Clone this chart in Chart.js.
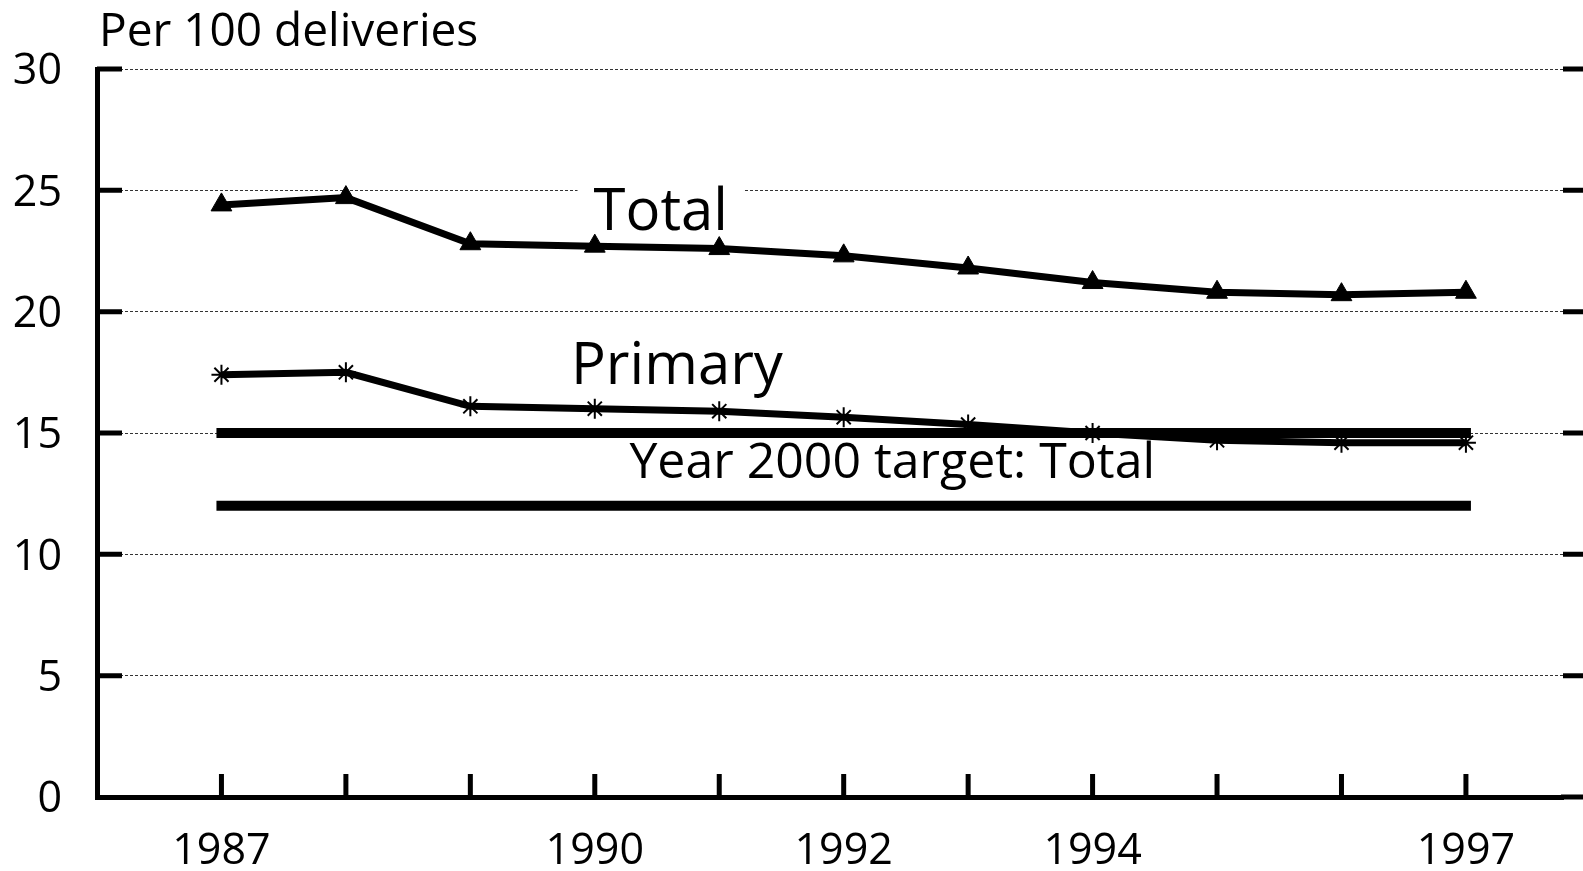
<!DOCTYPE html>
<html><head><meta charset="utf-8">
<script src="https://cdn.jsdelivr.net/npm/chart.js@4"></script>
<style>html,body{margin:0;padding:0;background:#fff;overflow:hidden}#wrap{width:1583px;height:871px;position:relative}</style>
</head><body><div id="wrap"><canvas id="c" width="1583" height="871"></canvas></div>
<script>
const years = [1987, 1988, 1989, 1990, 1991, 1992, 1993, 1994, 1995, 1996, 1997];
const totalRate = [24.4, 24.7, 22.8, 22.7, 22.6, 22.3, 21.8, 21.2, 20.8, 20.7, 20.8];
const primaryRate = [17.4, 17.5, 16.1, 16.0, 15.9, 15.65, 15.35, 15.0, 14.7, 14.6, 14.6];
const targetYears = [1987, 1997];
const targetTotal = [15, 15];
const targetPrimary = [12, 12];
const yTicks = [0, 5, 10, 15, 20, 25, 30];
const xLabelYears = [1987, 1990, 1992, 1994, 1997];
const yAxisTitle = "Per 100 deliveries";
const seriesLabels = ["Total", "Primary", "Year 2000 target: Total"];

const FONT = "'Open Sans', 'Noto Sans', sans-serif";
const W = '400';
const pts = (xs, ys) => xs.map((x, i) => ({x: x, y: ys[i]}));

const textLabels = [
  {text: seriesLabels[0], x: 1990.53, y: 24.05, size: 58, box: true},
  {text: seriesLabels[1], x: 1990.66, y: 17.7, size: 58, box: false},
  {text: seriesLabels[2], x: 1992.39, y: 13.72, size: 50, box: false}
];

const decor = {
  id: 'decor',
  beforeDatasetsDraw(chart) {
    const ctx = chart.ctx, xs = chart.scales.x, ys = chart.scales.y;
    ctx.save();
    ctx.textAlign = 'center';
    ctx.textBaseline = 'middle';
    textLabels.forEach(l => {
      ctx.font = W + " " + l.size + "px " + FONT;
      const px = xs.getPixelForValue(l.x), py = ys.getPixelForValue(l.y);
      if (l.box) {
        const w = ctx.measureText(l.text).width;
        ctx.fillStyle = '#fff';
        ctx.fillRect(px - w / 2 - 16, py - l.size * 0.5, w + 32, l.size);
      }
      ctx.fillStyle = '#000';
      ctx.fillText(l.text, px, py);
    });
    ctx.restore();
  },
  afterDraw(chart) {
    const ctx = chart.ctx, xs = chart.scales.x, ys = chart.scales.y, a = chart.chartArea;
    ctx.save();
    ctx.strokeStyle = '#000';
    ctx.lineWidth = 5;
    ctx.beginPath();
    yTicks.forEach(v => {
      const py = ys.getPixelForValue(v);
      if (v > 0) { ctx.moveTo(a.left, py); ctx.lineTo(a.left + 25, py); }
      ctx.moveTo(a.right, py); ctx.lineTo(chart.width, py);
    });
    years.forEach(v => {
      const px = xs.getPixelForValue(v);
      ctx.moveTo(px, a.bottom); ctx.lineTo(px, a.bottom - 23);
    });
    ctx.moveTo(a.right - 2, a.bottom); ctx.lineTo(chart.width, a.bottom);
    ctx.stroke();
    ctx.fillStyle = '#000';
    ctx.font = W + " 46px " + FONT;
    ctx.textAlign = 'left';
    ctx.textBaseline = 'alphabetic';
    ctx.fillText(yAxisTitle, 99, 46);
    ctx.restore();
  }
};

new Chart(document.getElementById('c'), {
  type: 'line',
  data: {
    datasets: [
      {label: 'Target total', data: pts(targetYears, targetTotal), borderColor: '#000', borderWidth: 10, borderCapStyle: 'square', pointRadius: 0, fill: false},
      {label: 'Target primary', data: pts(targetYears, targetPrimary), borderColor: '#000', borderWidth: 10, borderCapStyle: 'square', pointRadius: 0, fill: false},
      {label: seriesLabels[0], data: pts(years, totalRate), borderColor: '#000', backgroundColor: '#000', borderWidth: 7, pointStyle: 'triangle', pointRadius: 12, pointBorderWidth: 1, fill: false},
      {label: seriesLabels[1], data: pts(years, primaryRate), borderColor: '#000', backgroundColor: '#000', borderWidth: 7, pointStyle: 'star', pointRadius: 10, pointBorderWidth: 2, fill: false}
    ]
  },
  options: {
    responsive: false,
    animation: false,
    devicePixelRatio: 1,
    layout: {padding: {top: 69, right: 20, left: 0, bottom: 0}},
    plugins: {legend: {display: false}, tooltip: {enabled: false}},
    elements: {line: {tension: 0}},
    scales: {
      x: {
        type: 'linear', min: 1986, max: 1997.78,
        afterBuildTicks: s => { s.ticks = years.map(v => ({value: v})); },
        afterFit: s => { s.height = 74; },
        ticks: {autoSkip: false, maxRotation: 0, padding: 29, color: '#000', font: {family: FONT, size: 43, weight: W},
          callback: v => xLabelYears.includes(v) ? String(v) : ''},
        grid: {display: false, drawTicks: false},
        border: {display: true, color: '#000', width: 5}
      },
      y: {
        min: 0, max: 30,
        afterBuildTicks: s => { s.ticks = yTicks.map(v => ({value: v})); },
        afterFit: s => { s.width = 97; },
        ticks: {padding: 35, labelOffset: 3, color: '#000', font: {family: FONT, size: 43, weight: W}},
        grid: {color: '#333', lineWidth: 1, drawTicks: false},
        border: {display: true, color: '#000', width: 5, dash: [3, 2]}
      }
    }
  },
  plugins: [decor]
});
</script></body></html>
